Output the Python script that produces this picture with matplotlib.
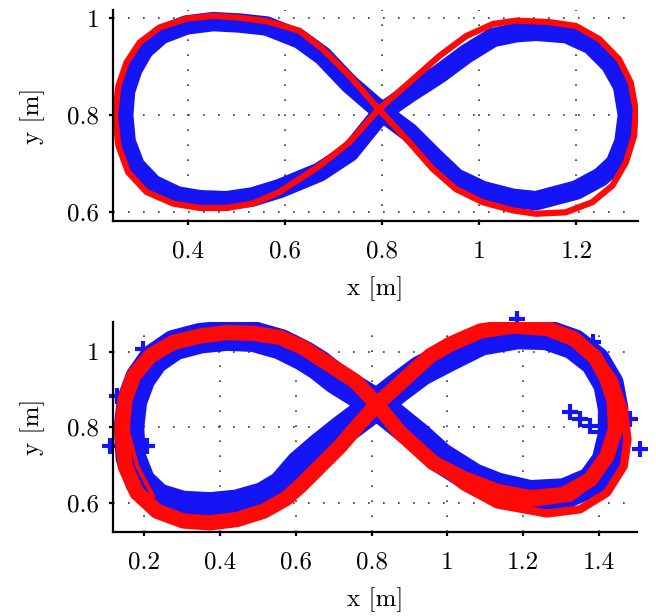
import matplotlib
matplotlib.use("Agg")
import matplotlib.pyplot as plt

plt.rcParams['font.family'] = ['cmr10', 'DejaVu Serif']
plt.rcParams['axes.formatter.use_mathtext'] = True
plt.rcParams['mathtext.fontset'] = 'cm'

# ---------------- top panel data ----------------
top_ref_x = [0.793, 0.733, 0.678, 0.630, 0.562, 0.507, 0.452, 0.397, 0.342, 0.301, 0.274,
             0.257, 0.250, 0.257, 0.277, 0.315, 0.370, 0.425, 0.480, 0.534, 0.589, 0.630,
             0.671, 0.733, 0.793, 0.856, 0.918, 0.973, 1.028, 1.076, 1.144, 1.199,
             1.247, 1.288, 1.312, 1.322, 1.319, 1.302, 1.274, 1.233, 1.178, 1.117, 1.069,
             1.007, 0.952, 0.904, 0.856, 0.793]
top_ref_y = [0.812, 0.881, 0.936, 0.974, 0.994, 1.001, 1.005, 0.999, 0.981, 0.950, 0.909,
             0.860, 0.799, 0.737, 0.682, 0.641, 0.617, 0.608, 0.608, 0.617, 0.641, 0.668,
             0.695, 0.744, 0.812, 0.867, 0.922, 0.963, 0.988, 0.995, 0.992, 0.984,
             0.957, 0.915, 0.867, 0.812, 0.757, 0.702, 0.654, 0.620, 0.599, 0.596, 0.603,
             0.620, 0.647, 0.689, 0.744, 0.812]

top_meas_x = [0.800, 0.733, 0.678, 0.630, 0.562, 0.507, 0.452, 0.397, 0.345, 0.310, 0.287,
              0.272, 0.268, 0.273, 0.292, 0.328, 0.378, 0.425, 0.480, 0.534, 0.589, 0.630,
              0.671, 0.733, 0.800, 0.856, 0.918, 0.973, 1.028, 1.076, 1.117, 1.180, 1.230,
              1.270, 1.295, 1.305, 1.298, 1.280, 1.250, 1.200, 1.117, 1.069, 1.007, 0.952,
              0.904, 0.856, 0.800]
top_meas_y = [0.806, 0.864, 0.922, 0.957, 0.984, 0.990, 0.993, 0.986, 0.966, 0.935, 0.895,
              0.850, 0.800, 0.745, 0.695, 0.657, 0.633, 0.625, 0.623, 0.631, 0.648, 0.665,
              0.682, 0.723, 0.806, 0.845, 0.885, 0.926, 0.960, 0.970, 0.973, 0.968, 0.945,
              0.905, 0.860, 0.800, 0.745, 0.700, 0.672, 0.645, 0.623, 0.628, 0.644, 0.670,
              0.716, 0.764, 0.806]

# ---------------- bottom panel data ----------------
bot_ref_x = [0.814, 0.757, 0.691, 0.664, 0.620, 0.559, 0.488, 0.418, 0.348, 0.277, 0.216,
             0.172, 0.150, 0.141, 0.150, 0.181, 0.234, 0.304, 0.374, 0.445, 0.515, 0.575,
             0.612, 0.664, 0.717, 0.770, 0.814, 0.875, 0.963, 1.042, 1.131, 1.218, 1.306,
             1.377, 1.421, 1.443, 1.440, 1.420, 1.390, 1.333, 1.262, 1.174, 1.087, 1.007,
             0.955, 0.920, 0.857, 0.814]
bot_ref_y = [0.861, 0.922, 0.965, 0.982, 1.011, 1.038, 1.049, 1.051, 1.042, 1.025, 0.989,
             0.936, 0.874, 0.795, 0.697, 0.627, 0.578, 0.552, 0.547, 0.556, 0.578, 0.612,
             0.645, 0.697, 0.750, 0.812, 0.861, 0.786, 0.706, 0.665, 0.631, 0.614, 0.622,
             0.662, 0.724, 0.795, 0.870, 0.930, 0.985, 1.035, 1.062, 1.068, 1.055, 1.020,
             0.990, 0.958, 0.900, 0.861]

bot_lap2_x = [0.955, 1.042, 1.131, 1.262, 1.350, 1.421, 1.465, 1.475, 1.465, 1.438, 1.394,
              1.333, 1.262, 1.174]
bot_lap2_y = [0.712, 0.644, 0.596, 0.572, 0.583, 0.627, 0.697, 0.768, 0.848, 0.927, 0.989,
              1.038, 1.064, 1.070]

bot_lap3_x = [1.131, 1.218, 1.324, 1.390, 1.425, 1.440]
bot_lap3_y = [0.612, 0.598, 0.612, 0.660, 0.720, 0.790]

bot_lap4_x = [0.224, 0.182, 0.158, 0.158]
bot_lap4_y = [0.617, 0.697, 0.787, 0.866]

bot_meas_x = [0.814, 0.708, 0.660, 0.620, 0.560, 0.490, 0.418, 0.348, 0.280, 0.225, 0.190,
              0.168, 0.160, 0.165, 0.190, 0.235, 0.300, 0.374, 0.445, 0.515, 0.565, 0.612,
              0.664, 0.720, 0.814, 0.870, 0.930, 1.007, 1.087, 1.184, 1.262, 1.333, 1.390,
              1.425, 1.437, 1.437, 1.420, 1.380, 1.310, 1.218, 1.131, 1.068, 0.981, 0.920,
              0.814]
bot_meas_y = [0.861, 0.927, 0.965, 0.990, 1.020, 1.040, 1.043, 1.036, 1.018, 0.980, 0.930,
              0.870, 0.800, 0.720, 0.655, 0.612, 0.592, 0.588, 0.595, 0.615, 0.645, 0.700,
              0.745, 0.790, 0.861, 0.905, 0.950, 0.990, 1.030, 1.047, 1.045, 1.020, 0.975,
              0.915, 0.850, 0.780, 0.710, 0.655, 0.625, 0.620, 0.640, 0.665, 0.720, 0.775,
              0.861]

bot_out_x = [0.110, 0.208, 0.197, 0.129, 1.324, 1.350, 1.377, 1.403, 1.509, 1.482, 1.385, 1.184]
bot_out_y = [0.750, 0.750, 1.007, 0.882, 0.840, 0.821, 0.803, 0.787, 0.742, 0.821, 1.025, 1.086]

top_xticks = [0.4, 0.6, 0.8, 1.0, 1.2]
top_xlabels = ['0.4', '0.6', '0.8', '1', '1.2']
top_yticks = [0.6, 0.8, 1.0]
top_ylabels = ['0.6', '0.8', '1']
bot_xticks = [0.2, 0.4, 0.6, 0.8, 1.0, 1.2, 1.4]
bot_xlabels = ['0.2', '0.4', '0.6', '0.8', '1', '1.2', '1.4']
bot_yticks = [0.6, 0.8, 1.0]
bot_ylabels = ['0.6', '0.8', '1']

BLUE = '#1414f5'
RED = '#ff0808'
KW = dict(solid_joinstyle='round', solid_capstyle='round')

fig = plt.figure(figsize=(6.56, 6.16), dpi=100)
ax1 = fig.add_axes([0.1723, 0.6412, 0.8003, 0.3426])
ax2 = fig.add_axes([0.1723, 0.1364, 0.7987, 0.3409])


def style(ax, xt, xl, yt, yl, xlim, ylim):
    ax.set_xlim(*xlim)
    ax.set_ylim(*ylim)
    ax.set_xticks(xt, xl)
    ax.set_yticks(yt, yl)
    ax.grid(True, linestyle=(0, (1, 8)), color='0.2', linewidth=1.2)
    ax.set_axisbelow(True)
    for s in ['top', 'right']:
        ax.spines[s].set_visible(False)
    for s in ['left', 'bottom']:
        ax.spines[s].set_linewidth(1.6)
    ax.tick_params(direction='out', length=3, width=1.6, labelsize=18)
    ax.tick_params(axis='x', pad=11)
    ax.tick_params(axis='y', pad=7)
    ax.set_xlabel('x [m]', fontsize=18, labelpad=10)
    ax.set_ylabel('y [m]', fontsize=18, labelpad=16)


ax1.plot(top_meas_x, top_meas_y, color=BLUE, lw=14, **KW)
ax1.plot(top_ref_x, top_ref_y, color=RED, lw=4.5, **KW)
style(ax1, top_xticks, top_xlabels, top_yticks, top_ylabels, (0.246, 1.327), (0.581, 1.017))

ax2.plot(bot_meas_x, bot_meas_y, color=BLUE, lw=22, **KW)
ax2.plot(bot_out_x, bot_out_y, '+', color=BLUE, ms=11, mew=3, clip_on=False)
ax2.plot(bot_ref_x, bot_ref_y, color=RED, lw=11, **KW)
ax2.plot(bot_lap2_x, bot_lap2_y, color=RED, lw=6, **KW)
ax2.plot(bot_lap3_x, bot_lap3_y, color=RED, lw=5, **KW)
ax2.plot(bot_lap4_x, bot_lap4_y, color=RED, lw=3, **KW)
style(ax2, bot_xticks, bot_xlabels, bot_yticks, bot_ylabels, (0.118, 1.5), (0.523, 1.079))

fig.savefig('out.png', dpi=100)
